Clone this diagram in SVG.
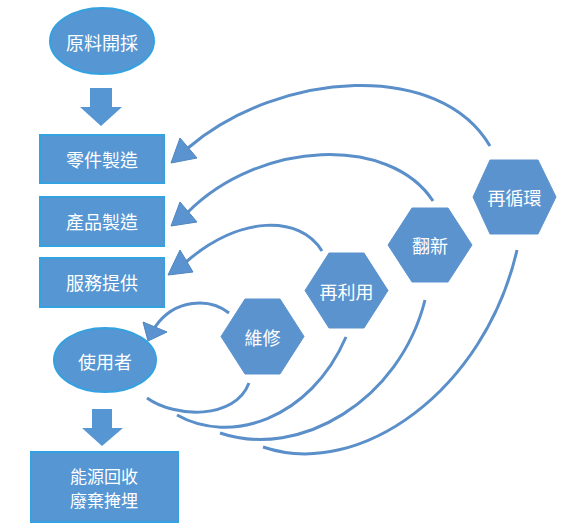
<svg xmlns="http://www.w3.org/2000/svg" width="569" height="532" viewBox="0 0 569 532">
<defs>
<style>
.box{fill:#5596d3;stroke:#34a2e0;stroke-width:2}
.ell{fill:#5596d3;stroke:#34a2e0;stroke-width:2}
.hex{fill:#5b93cf;stroke:#5b93cf;stroke-width:1}
.blk{fill:#5596d3}
.t{fill:#ffffff;font-family:"Noto Sans CJK TC","Noto Sans CJK SC",sans-serif;font-size:18px;text-anchor:middle;dominant-baseline:central}
.t2{font-size:17px}
.c{fill:none;stroke:#5a8fc9;stroke-width:3}
.ah{fill:#5a93cf;stroke:#4f86c0;stroke-width:1}
</style>
</defs>
<rect width="569" height="532" fill="#ffffff"/>
<g id="n-raw"><ellipse class="ell" cx="102" cy="41" rx="52" ry="33"/><text class="t" x="102" y="42">原料開採</text></g>
<g id="arrow-down-1"><polygon class="blk" points="90,88 112,88 112,107 122,107 101,126 80,107 90,107"/></g>
<g id="n-parts"><rect class="box" x="40" y="135" width="124" height="48"/><text class="t" x="102" y="159">零件製造</text></g>
<g id="n-product"><rect class="box" x="40" y="197" width="124" height="49"/><text class="t" x="102" y="221">產品製造</text></g>
<g id="n-service"><rect class="box" x="40" y="258" width="124" height="49"/><text class="t" x="102" y="282">服務提供</text></g>
<g id="n-user"><ellipse class="ell" cx="105" cy="360" rx="51" ry="32"/><text class="t" x="105" y="361">使用者</text></g>
<g id="arrow-down-2"><polygon class="blk" points="92,409 112,409 112,428 123,428 102,446 82,428 92,428"/></g>
<g id="n-end"><rect class="box" x="31" y="452" width="147" height="70"/><text class="t t2" x="104" y="475">能源回收</text><text class="t t2" x="104" y="499">廢棄掩埋</text></g>
<g id="n-repair"><polygon class="hex" points="221,336.5 245,299 280,299 304,336.5 280,374 245,374"/><text class="t" x="262.5" y="337">維修</text></g>
<g id="n-reuse"><polygon class="hex" points="305,290.5 329,253 364,253 388,290.5 364,328 329,328"/><text class="t" x="346.5" y="291">再利用</text></g>
<g id="n-refurb"><polygon class="hex" points="388,245 412,208 448,208 472,245 448,282 412,282"/><text class="t" x="430" y="245">翻新</text></g>
<g id="n-recycle"><polygon class="hex" points="473,197 490,160 538,160 556,197 538,234 490,234"/><text class="t" x="514.5" y="197">再循環</text></g>
<g id="connectors">
<path class="c" d="M490,146 C440,60 280,70 188,148"/>
<polygon class="ah" points="171,163 180,138 197,158"/>
<path class="c" d="M433,201 C390,135 260,140 188,212"/>
<polygon class="ah" points="171,226 180,202 197,222"/>
<path class="c" d="M322,251 C300,215 240,215 186,262"/>
<polygon class="ah" points="168,275 180,250 193,272"/>
<path class="c" d="M229,313 C210,298 175,298 155,327"/>
<polygon class="ah" points="143,322 167,332 148,341"/>
<path class="c" d="M249,383 C235,420 175,418 147,398"/>
<path class="c" d="M346,337 C310,420 230,445 177,415"/>
<path class="c" d="M425,300 C400,400 300,460 220,433"/>
<path class="c" d="M517,250 C485,390 360,480 263,447"/>
</g>
</svg>
